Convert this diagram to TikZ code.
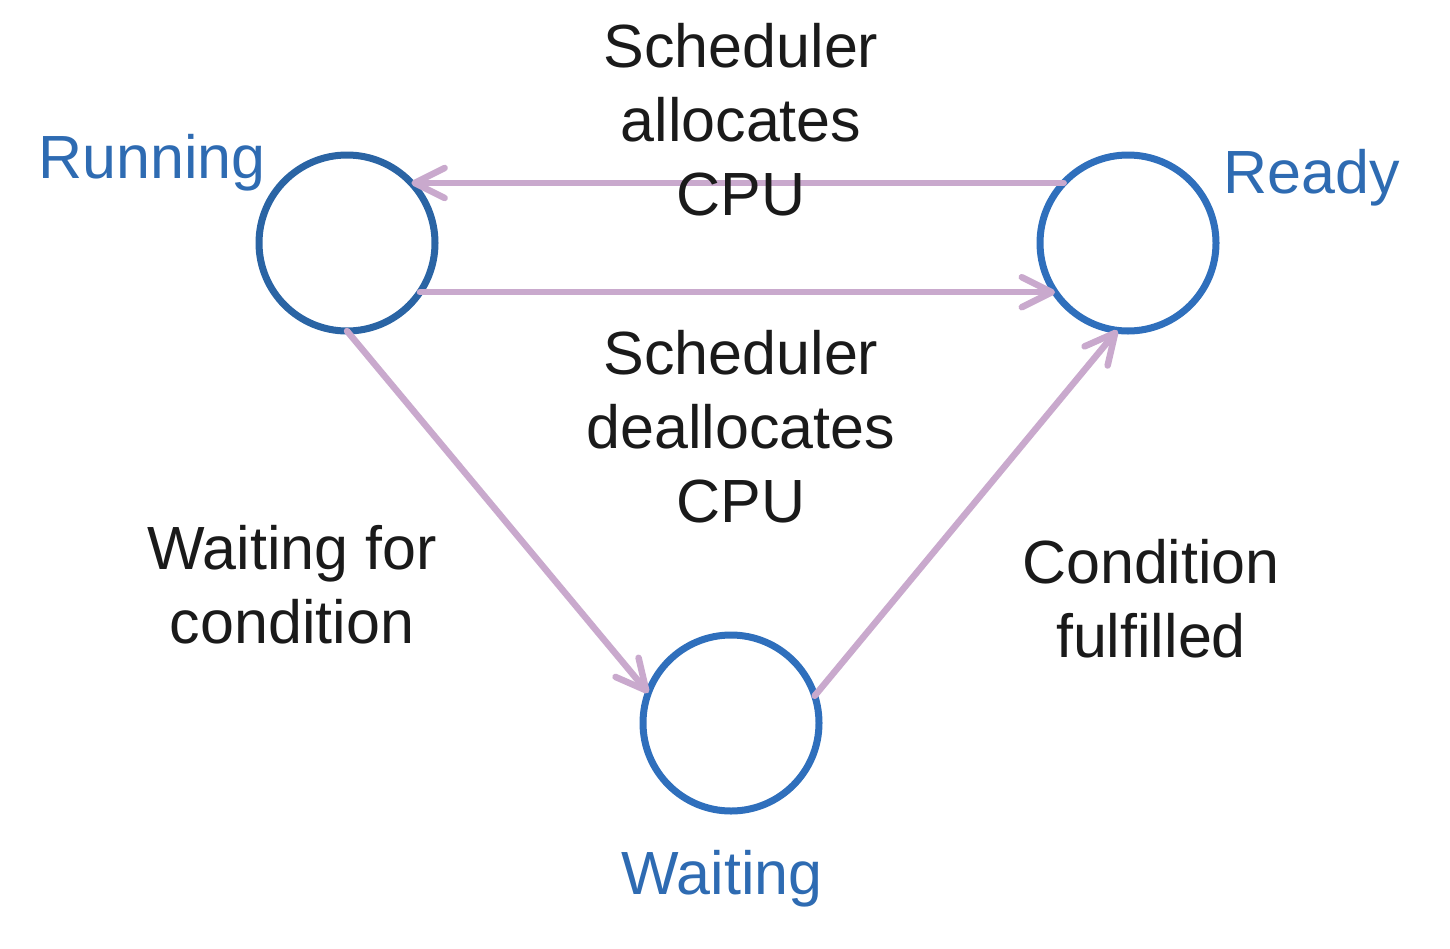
\documentclass[tikz,border=0pt]{standalone}
\usepackage{fontspec}
\setmainfont{Liberation Sans}
\usetikzlibrary{arrows.meta}
\definecolor{arrowpink}{HTML}{C9A9CD}
\definecolor{rundark}{HTML}{2A64A4}
\definecolor{stateblue}{HTML}{2F6FBC}
\definecolor{labelblue}{HTML}{2E6BB2}
\definecolor{txt}{HTML}{1A1A1A}
\tikzset{
  state/.style={circle, draw=stateblue, line width=7pt, minimum size=176pt, inner sep=0pt, outer sep=0pt},
  statelabel/.style={text=labelblue, font=\fontsize{61}{74}\selectfont, inner sep=0pt, anchor=base},
  trans/.style={draw=arrowpink, line width=6.5pt, line cap=round,
     -{Straight Barb[length=30pt, width=30pt, round]}},
  desc/.style={text=txt, font=\fontsize{61}{74}\selectfont, align=center, inner sep=0pt, anchor=base}
}
\begin{document}
\begin{tikzpicture}[x=1pt,y=-1pt]
\useasboundingbox (0,0) rectangle (1450,948);
\node[state, draw=rundark] (run) at (347,243) {};
\node[state] (ready) at (1128,243) {};
\node[state] (wait) at (731,723) {};
\node[statelabel] (lrun) at (152,178) {Running};
\node[statelabel] (lready) at (1312,193) {Ready};
\node[statelabel] (lwait) at (722,894) {Waiting};
\draw[trans] (ready.137) -- (run.43);
\draw[trans] (run.-34.6) -- (ready.214.6);
\draw[trans] (run.-90) -- (wait.160);
\draw[trans] (wait.18) -- (ready.263);
\node[desc] (alloc) at (741,215) {Scheduler\\allocates\\CPU};
\node[desc] (dealloc) at (741,522) {Scheduler\\deallocates\\CPU};
\node[desc] (waitfor) at (292,643) {Waiting for\\condition};
\node[desc] (fulfil) at (1151,657) {Condition\\fulfilled};
\end{tikzpicture}
\end{document}
